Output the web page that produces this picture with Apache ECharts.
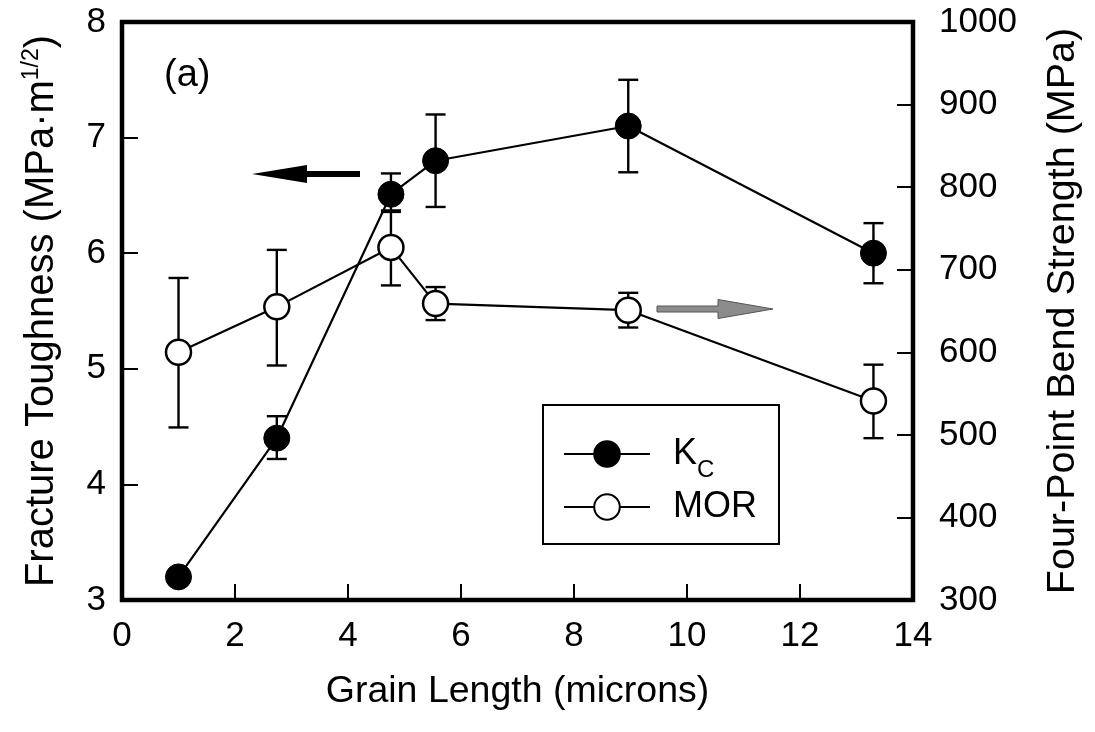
<!DOCTYPE html>
<html>
<head>
<meta charset="utf-8">
<script src="https://cdn.jsdelivr.net/npm/echarts@6/dist/echarts.min.js"></script>
<style>
html,body{margin:0;padding:0;background:#fff;}
#chart{width:1095px;height:732px;}
</style>
</head>
<body>
<div id="chart"></div>
<script>
// ---- data ----
const grainLength = [1.0, 2.74, 4.76, 5.55, 8.96, 13.3];
const kcValues    = [3.2, 4.4, 6.51, 6.80, 7.10, 6.00];
const kcLow       = [null, 4.22, 6.37, 6.40, 6.70, 5.74];
const kcHigh      = [null, 4.59, 6.69, 7.20, 7.50, 6.26];
const morValues   = [600, 655, 727, 659, 651, 541];
const morLow      = [509, 584, 681, 639, 630, 496];
const morHigh     = [690, 724, 770, 679, 672, 585];
const xTicks = {min: 0, max: 14, interval: 2};
const yLeftTicks = {min: 3, max: 8, interval: 1};
const yRightTicks = {min: 300, max: 1000, interval: 100};
const seriesNames = ['Kc', 'MOR'];

const FONT = '"Liberation Sans", Arial, Helvetica, sans-serif';

function pairs(xs, ys) { return xs.map((x, i) => [x, ys[i]]); }
function errData(xs, lo, hi) {
  const out = [];
  xs.forEach((x, i) => { if (lo[i] != null && hi[i] != null) out.push([x, lo[i], hi[i]]); });
  return out;
}
function errRender(params, api) {
  const x = api.value(0);
  const p1 = api.coord([x, api.value(1)]);
  const p2 = api.coord([x, api.value(2)]);
  const hw = 10;
  const st = {stroke: '#000', lineWidth: 2.4};
  return {
    type: 'group',
    children: [
      {type: 'line', shape: {x1: p1[0], y1: p1[1], x2: p2[0], y2: p2[1]}, style: st},
      {type: 'line', shape: {x1: p1[0] - hw, y1: p1[1], x2: p1[0] + hw, y2: p1[1]}, style: st},
      {type: 'line', shape: {x1: p2[0] - hw, y1: p2[1], x2: p2[0] + hw, y2: p2[1]}, style: st}
    ]
  };
}

const chart = echarts.init(document.getElementById('chart'), null, {renderer: 'canvas'});
const axisLabelStyle = {color: '#000', fontSize: 35, fontFamily: FONT, formatter: function (v) { return String(v); }};
const option = {
  backgroundColor: '#fff',
  animation: false,
  textStyle: {fontFamily: FONT, color: '#000'},
  grid: {left: 122, right: 182, top: 22, bottom: 132, show: true, borderColor: '#000', borderWidth: 4.5, backgroundColor: 'transparent'},
  legend: {
    data: seriesNames,
    orient: 'vertical',
    left: 543, top: 405,
    itemWidth: 86, itemHeight: 32, itemGap: 7,
    padding: [31, 22, 19, 20],
    backgroundColor: '#fff', borderColor: '#000', borderWidth: 2,
    formatter: function (n) { return n === 'Kc' ? '{k|K}{s|C}' : '{k|MOR}'; },
    textStyle: {
      color: '#000', fontFamily: FONT, padding: [0, 0, 0, 18],
      rich: {
        k: {fontSize: 36, fontFamily: FONT, color: '#000', lineHeight: 36},
        s: {fontSize: 24, fontFamily: FONT, color: '#000', lineHeight: 36, verticalAlign: 'bottom', padding: [0, 0, -10, 0]}
      }
    }
  },
  xAxis: {
    type: 'value', min: xTicks.min, max: xTicks.max, interval: xTicks.interval,
    name: 'Grain Length (microns)', nameLocation: 'middle', nameGap: 73,
    nameTextStyle: {fontSize: 37.5, fontFamily: FONT, color: '#000'},
    axisLine: {show: false},
    axisTick: {show: true, inside: true, length: 16, lineStyle: {color: '#000', width: 2}},
    axisLabel: Object.assign({margin: 19}, axisLabelStyle),
    splitLine: {show: false}
  },
  yAxis: [
    {
      type: 'value', position: 'left', min: yLeftTicks.min, max: yLeftTicks.max, interval: yLeftTicks.interval,
      name: '{a|Fracture Toughness (MPa·m}{b|1/2}{a|)}', nameLocation: 'middle', nameGap: 58,
      nameTextStyle: {
        color: '#000',
        rich: {
          a: {fontSize: 40, fontFamily: FONT, color: '#000', lineHeight: 44},
          b: {fontSize: 23, fontFamily: FONT, color: '#000', lineHeight: 44, verticalAlign: 'top'}
        }
      },
      axisLine: {show: false},
      axisTick: {show: true, inside: true, length: 16, lineStyle: {color: '#000', width: 2}},
      axisLabel: Object.assign({margin: 16}, axisLabelStyle),
      splitLine: {show: false}
    },
    {
      type: 'value', position: 'right', min: yRightTicks.min, max: yRightTicks.max, interval: yRightTicks.interval,
      name: 'Four-Point Bend Strength (MPa)', nameLocation: 'middle', nameGap: 130,
      nameTextStyle: {fontSize: 39.5, fontFamily: FONT, color: '#000'},
      axisLine: {show: false},
      axisTick: {show: true, inside: true, length: 16, lineStyle: {color: '#000', width: 2}},
      axisLabel: Object.assign({margin: 26}, axisLabelStyle),
      splitLine: {show: false}
    }
  ],
  graphic: [
    {type: 'text', left: 164, top: 57, style: {text: '(a)', fontSize: 38, fontFamily: FONT, fill: '#000'}, z: 10},
    {type: 'polygon', shape: {points: [[252, 174], [307, 165], [307, 171], [360, 171], [360, 177], [307, 177], [307, 183]]}, style: {fill: '#000'}, z: 10},
    {type: 'polygon', shape: {points: [[773, 309], [718, 299.5], [718, 306], [657, 306], [657, 312], [718, 312], [718, 318.5]]}, style: {fill: '#8c8c8c', stroke: '#555', lineWidth: 1}, z: 10}
  ],
  series: [
    {
      type: 'custom', name: 'kcErr', yAxisIndex: 0, z: 1,
      renderItem: errRender, data: errData(grainLength, kcLow, kcHigh), silent: true
    },
    {
      type: 'custom', name: 'morErr', yAxisIndex: 1, z: 1,
      renderItem: errRender, data: errData(grainLength, morLow, morHigh), silent: true
    },
    {
      type: 'line', name: 'Kc', yAxisIndex: 0, z: 3,
      data: pairs(grainLength, kcValues),
      symbol: 'circle', symbolSize: 26, showSymbol: true,
      lineStyle: {color: '#000', width: 2.2},
      itemStyle: {color: '#000', borderColor: '#000', borderWidth: 1}
    },
    {
      type: 'line', name: 'MOR', yAxisIndex: 1, z: 3,
      data: pairs(grainLength, morValues),
      symbol: 'circle', symbolSize: 25, showSymbol: true,
      lineStyle: {color: '#000', width: 2.2},
      itemStyle: {color: '#fff', borderColor: '#000', borderWidth: 2.5}
    }
  ]
};
chart.setOption(option);
</script>
</body>
</html>
